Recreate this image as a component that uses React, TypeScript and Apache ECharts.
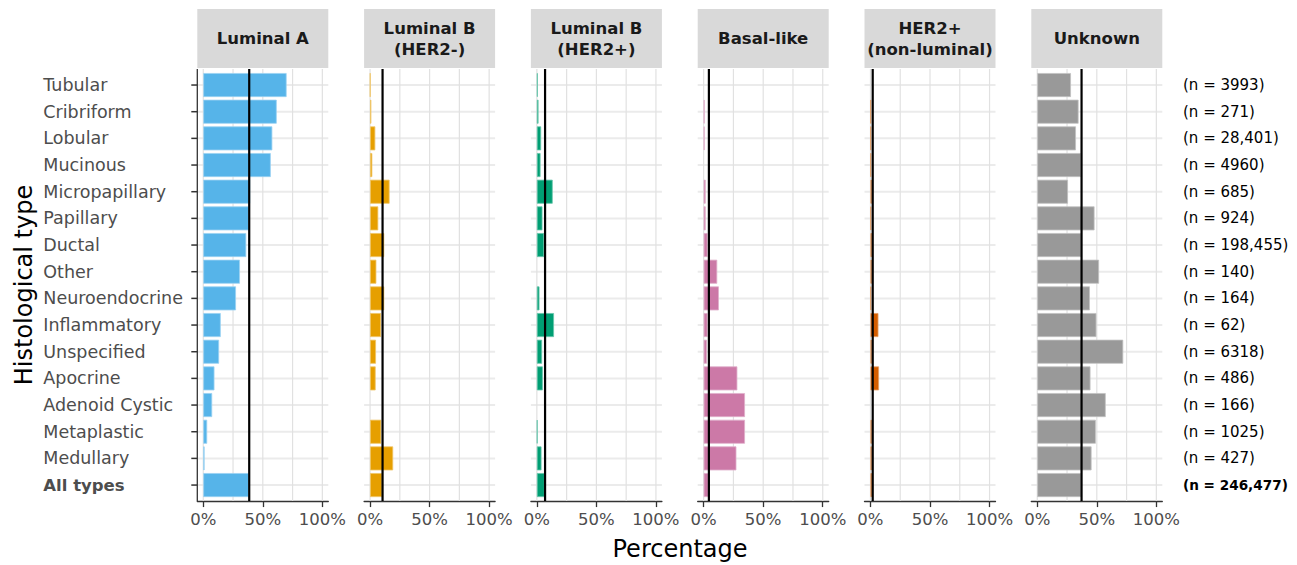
import React, { useEffect, useRef } from "react";
import * as echarts from "echarts";

const categories = [
  "Tubular", "Cribriform", "Lobular", "Mucinous", "Micropapillary", "Papillary",
  "Ductal", "Other", "Neuroendocrine", "Inflammatory", "Unspecified", "Apocrine",
  "Adenoid Cystic", "Metaplastic", "Medullary", "All types",
];
const countLabels = [
  "(n = 3993)", "(n = 271)", "(n = 28,401)", "(n = 4960)", "(n = 685)", "(n = 924)",
  "(n = 198,455)", "(n = 140)", "(n = 164)", "(n = 62)", "(n = 6318)", "(n = 486)",
  "(n = 166)", "(n = 1025)", "(n = 427)", "(n = 246,477)",
];
const subtypes = [
  "Luminal A", "Luminal B\n(HER2-)", "Luminal B\n(HER2+)", "Basal-like",
  "HER2+\n(non-luminal)", "Unknown",
];
const subtypeColors = ["#56B4E9", "#E69F00", "#009E73", "#CC79A7", "#D55E00", "#999999"];

const luminalA = [70, 61.7, 58, 56.7, 39.4, 38.3, 36.1, 30.8, 27.5, 14.7, 13.3, 9.4, 7.5, 3.3, 1.1, 38.4];
const luminalBHer2Neg = [0.3, 1.1, 4.4, 1.9, 16.4, 6.9, 11.9, 5.3, 11.9, 9.2, 5.0, 4.7, 0, 9.4, 19.4, 10.3];
const luminalBHer2Pos = [0.8, 1.4, 3.6, 3.1, 13.3, 4.7, 6.1, 0, 2.2, 14.4, 4.4, 5.0, 0, 0.6, 3.9, 6.6];
const basalLike = [0, 0.8, 0.8, 0, 1.7, 1.7, 3.3, 11.4, 12.8, 3.3, 2.8, 28.3, 34.7, 34.7, 27.5, 4.2];
const her2NonLuminal = [0, 0.4, 0.4, 0.4, 1.2, 0.5, 1.3, 1.2, 0.5, 6.7, 1.2, 7.2, 0, 1.2, 1.2, 1.5];
const unknownType = [28.3, 34.7, 32.5, 36.6, 25.8, 48.1, 37.0, 51.9, 44.2, 49.7, 72.2, 44.7, 57.5, 49.2, 45.6, 37.0];
const overallShare = [38.6, 10.5, 6.9, 4.4, 1.9, 37.2];

const xTicks = [0, 50, 100];
const xGrid = [0, 25, 50, 75, 100];

const seriesValues = [luminalA, luminalBHer2Neg, luminalBHer2Pos, basalLike, her2NonLuminal, unknownType];

const FONT = "DejaVu Sans";
const PANEL_LEFT0 = 197.3;
const PANEL_STEP = 166.8;
const PANEL_W = 131;
const GRID_TOP = 71.7;
const GRID_H = 426.7;
const BAND = GRID_H / categories.length;
const PAD = BAND * 0.1;

function tint(hex: string, amount: number): string {
  const n = parseInt(hex.slice(1), 16);
  const r = (n >> 16) & 255;
  const g = (n >> 8) & 255;
  const b = n & 255;
  const m = (c: number) => Math.round(c + (255 - c) * amount);
  return `rgb(${m(r)},${m(g)},${m(b)})`;
}

export default function App() {
  const ref = useRef<HTMLDivElement>(null);

  useEffect(() => {
    if (!ref.current) return;
    const chart = echarts.init(ref.current, null, { renderer: "svg" });

    const grids = subtypes.map((_, i) => ({
      left: PANEL_LEFT0 + i * PANEL_STEP,
      top: GRID_TOP,
      width: PANEL_W,
      height: GRID_H,
      containLabel: false,
      outerBoundsMode: "none",
    }));

    const xAxes = subtypes.map((_, i) => ({
      type: "value",
      gridIndex: i,
      min: -5,
      max: 105,
      offset: PAD,
      axisLine: { show: true, lineStyle: { color: "#333333", width: 1.3 } },
      axisTick: { show: true, customValues: xTicks, length: 6, lineStyle: { color: "#333333", width: 1.3 } },
      axisLabel: {
        show: true,
        customValues: xTicks,
        formatter: "{value}%",
        color: "#4d4d4d",
        fontSize: 16.5,
        fontFamily: FONT,
        margin: 10,
      },
      splitLine: { show: false },
    }));

    const yAxes: any[] = subtypes.map((_, i) => ({
      type: "category",
      gridIndex: i,
      data: categories,
      inverse: true,
      axisLine: { show: false },
      axisTick: { show: false },
      axisLabel: {
        show: i === 0,
        align: "left",
        margin: 154,
        interval: 0,
        formatter: (v: string) => (v === "All types" ? `{b|${v}}` : `{r|${v}}`),
        rich: {
          r: { fontSize: 17.5, color: "#4d4d4d", fontFamily: FONT },
          b: { fontSize: 16.5, color: "#4d4d4d", fontFamily: FONT, fontWeight: "bold" },
        },
      },
      splitLine: { show: false },
    }));
    yAxes.push({
      type: "category",
      gridIndex: 5,
      position: "right",
      data: categories,
      inverse: true,
      axisLine: { show: false },
      axisTick: { show: false },
      axisLabel: {
        show: true,
        align: "left",
        margin: 20.7,
        interval: 0,
        formatter: (_v: string, idx: number) =>
          idx === countLabels.length - 1 ? `{b|${countLabels[idx]}}` : `{r|${countLabels[idx]}}`,
        rich: {
          r: { fontSize: 15, color: "#000000", fontFamily: FONT },
          b: { fontSize: 13.6, color: "#000000", fontFamily: FONT, fontWeight: "bold" },
        },
      },
      splitLine: { show: false },
    });

    const series: any[] = [];
    subtypes.forEach((_, i) => {
      series.push({
        type: "custom",
        xAxisIndex: i,
        yAxisIndex: i,
        z: 1,
        clip: false,
        silent: true,
        data: categories.map((_c, k) => [0, k]),
        renderItem: (params: any, api: any) => {
          const cs = params.coordSys;
          const y = api.coord([0, api.value(1)])[1];
          const children: any[] = [
            {
              type: "line",
              shape: { x1: cs.x, y1: y, x2: cs.x + cs.width, y2: y },
              style: { stroke: "#ebebeb", lineWidth: 2 },
            },
          ];
          if (i === 0) {
            children.push({
              type: "line",
              z2: 10,
              shape: { x1: cs.x - 6, y1: y, x2: cs.x, y2: y },
              style: { stroke: "#333333", lineWidth: 1.5 },
            });
          }
          return { type: "group", children };
        },
      });
      series.push({
        type: "custom",
        xAxisIndex: i,
        yAxisIndex: i,
        z: 1,
        clip: false,
        silent: true,
        data: xGrid.map((v) => [v, 0]),
        renderItem: (params: any, api: any) => {
          const cs = params.coordSys;
          const x = api.coord([api.value(0), 0])[0];
          const pad = api.size([0, 1])[1] * 0.1;
          return {
            type: "line",
            shape: { x1: x, y1: cs.y - pad, x2: x, y2: cs.y + cs.height + pad },
            style: { stroke: "#e1e1e1", lineWidth: 1.2 },
          };
        },
      });
      series.push({
        type: "bar",
        xAxisIndex: i,
        yAxisIndex: i,
        z: 2,
        barWidth: "90%",
        silent: true,
        data: seriesValues[i].map((v) => (v === 0 ? "-" : v)),
        itemStyle: {
          color: subtypeColors[i],
          borderColor: tint(subtypeColors[i], 0.4),
          borderWidth: 0.8,
        },
      });
      series.push({
        type: "custom",
        xAxisIndex: i,
        yAxisIndex: i,
        z: 3,
        clip: false,
        silent: true,
        data: [[overallShare[i], 0]],
        renderItem: (params: any, api: any) => {
          const cs = params.coordSys;
          const x = api.coord([api.value(0), 0])[0];
          const pad = api.size([0, 1])[1] * 0.1;
          return {
            type: "line",
            shape: { x1: x, y1: cs.y - pad, x2: x, y2: cs.y + cs.height + pad },
            style: { stroke: "#000000", lineWidth: 2.2 },
          };
        },
      });
    });
    series.push({
      type: "custom",
      xAxisIndex: 0,
      yAxisIndex: 0,
      z: 4,
      clip: false,
      silent: true,
      data: [[-5, 0]],
      renderItem: (params: any, api: any) => {
        const cs = params.coordSys;
        const pad = api.size([0, 1])[1] * 0.1;
        return {
          type: "line",
          shape: { x1: cs.x, y1: cs.y - pad, x2: cs.x, y2: cs.y + cs.height + pad },
          style: { stroke: "#333333", lineWidth: 1.3 },
        };
      },
    });

    const graphics: any[] = [];
    subtypes.forEach((name, i) => {
      const left = PANEL_LEFT0 + i * PANEL_STEP;
      graphics.push({
        type: "rect",
        silent: true,
        shape: { x: left, y: 9, width: PANEL_W, height: 59 },
        style: { fill: "#d9d9d9" },
      });
      graphics.push({
        type: "text",
        silent: true,
        x: left + PANEL_W / 2,
        y: 38.5,
        style: {
          text: name,
          fill: "#1a1a1a",
          font: `bold 16.5px "${FONT}"`,
          align: "center",
          verticalAlign: "middle",
          lineHeight: 21,
        },
      });
    });
    graphics.push({
      type: "text",
      silent: true,
      x: 24,
      y: 285,
      rotation: Math.PI / 2,
      style: {
        text: "Histological type",
        fill: "#000000",
        font: `24px "${FONT}"`,
        align: "center",
        verticalAlign: "middle",
      },
    });
    graphics.push({
      type: "text",
      silent: true,
      x: 680,
      y: 549,
      style: {
        text: "Percentage",
        fill: "#000000",
        font: `24px "${FONT}"`,
        align: "center",
        verticalAlign: "middle",
      },
    });

    chart.setOption({
      animation: false,
      backgroundColor: "#ffffff",
      textStyle: { fontFamily: FONT },
      grid: grids,
      xAxis: xAxes,
      yAxis: yAxes,
      series,
      graphic: graphics,
    });

    return () => chart.dispose();
  }, []);

  return (
    <div
      ref={ref}
      style={{ position: "fixed", left: 0, top: 0, width: 1297, height: 565 }}
    />
  );
}
